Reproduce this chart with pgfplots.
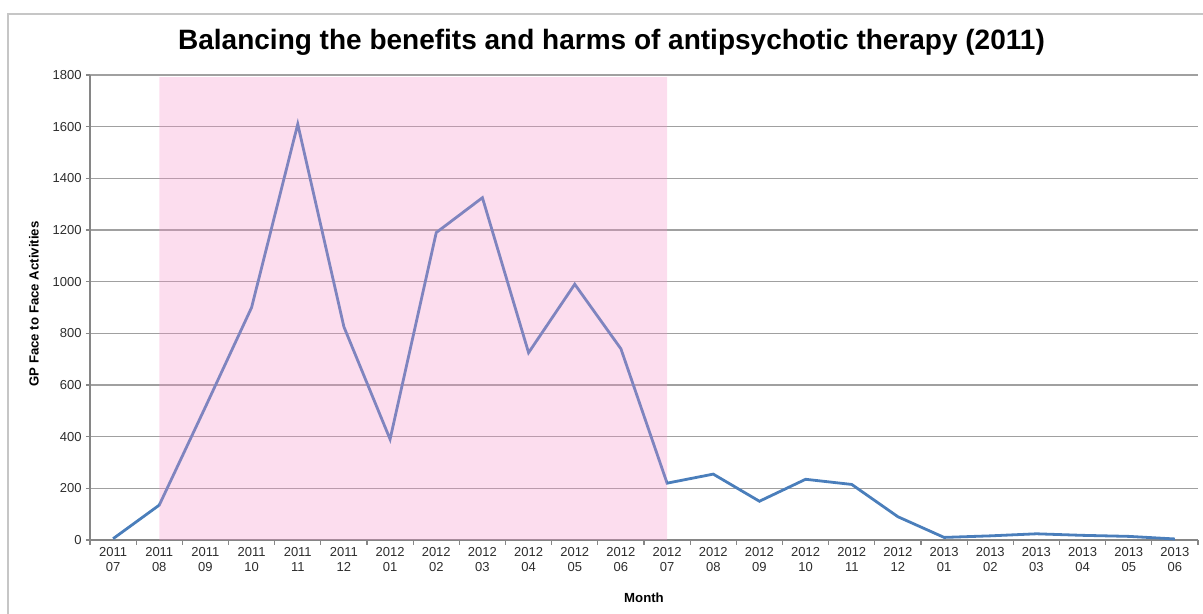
\documentclass[border=0pt]{standalone}
\usepackage{pgfplots}
\usepackage{pgfplotstable}
\pgfplotsset{compat=1.18}
\usepackage{fontspec}
\setmainfont{Liberation Sans}

\definecolor{lineblue}{RGB}{74,126,187}
\definecolor{gridgray}{RGB}{160,160,160}
\definecolor{axisgray}{RGB}{134,134,134}
\definecolor{shade}{RGB}{245,147,201}
\definecolor{labelgray}{RGB}{45,45,45}

% Monthly GP face-to-face activities, July 2011 to June 2013
\pgfplotstableread{
idx value
0   5
1   135
2   515
3   900
4   1610
5   825
6   390
7   1190
8   1325
9   725
10  990
11  740
12  220
13  255
14  150
15  235
16  215
17  90
18  10
19  16
20  24
21  18
22  14
23  4
}\activities

\begin{document}
\begin{tikzpicture}[x=1pt,y=1pt]
\path[use as bounding box] (0,0) rectangle (601.5,307);
% chart frame
\draw[gray!45, line width=1pt] (4,-2) -- (4,300) -- (604,300);
% title
\node[font=\bfseries\fontsize{14}{16}\selectfont, anchor=base] at (305.75,282)
  {Balancing the benefits and harms of antipsychotic therapy (2011)};
\begin{axis}[
  at={(45pt,37pt)}, anchor=south west,
  scale only axis, width=554pt, height=232.5pt,
  xmin=-0.5, xmax=23.5, ymin=0, ymax=1800,
  axis lines=left,
  axis line style={-, draw=axisgray, line width=0.9pt},
  tick align=outside,
  xtick={0,...,23},
  xticklabels={{2011\\07},{2011\\08},{2011\\09},{2011\\10},{2011\\11},{2011\\12},
    {2012\\01},{2012\\02},{2012\\03},{2012\\04},{2012\\05},{2012\\06},
    {2012\\07},{2012\\08},{2012\\09},{2012\\10},{2012\\11},{2012\\12},
    {2013\\01},{2013\\02},{2013\\03},{2013\\04},{2013\\05},{2013\\06}},
  minor xtick={-0.5,0.5,...,23.5},
  major x tick style={draw=none},
  minor x tick style={draw=axisgray, line width=0.6pt},
  minor tick length=2.5pt,
  major tick length=2pt,
  xticklabel style={align=center, font=\fontsize{6.5}{7.5}\selectfont, text=labelgray, inner sep=1.5pt},
  ytick={0,200,...,1800},
  major y tick style={draw=axisgray, line width=0.6pt},
  yticklabel style={font=\fontsize{6.5}{7.5}\selectfont, text=labelgray, inner sep=2pt},
  /pgf/number format/assume math mode=true,
  /pgf/number format/1000 sep={},
  ymajorgrids,
  grid style={draw=gridgray, line width=0.7pt},
  clip=false,
]
\addplot[lineblue, line width=1.4pt, mark=none] table[x=idx, y=value] {\activities};
% highlighted period, August 2011 to July 2012
\addplot[draw=none, fill=shade, fill opacity=0.315]
  coordinates {(1,0) (1,1792) (12,1792) (12,0)} \closedcycle;
\end{axis}
% axis titles
\node[font=\bfseries\fontsize{6.6}{8}\selectfont, rotate=90] at (17,155) {GP Face to Face Activities};
\node[font=\bfseries\fontsize{6.6}{8}\selectfont] at (322,8) {Month};
\end{tikzpicture}
\end{document}
